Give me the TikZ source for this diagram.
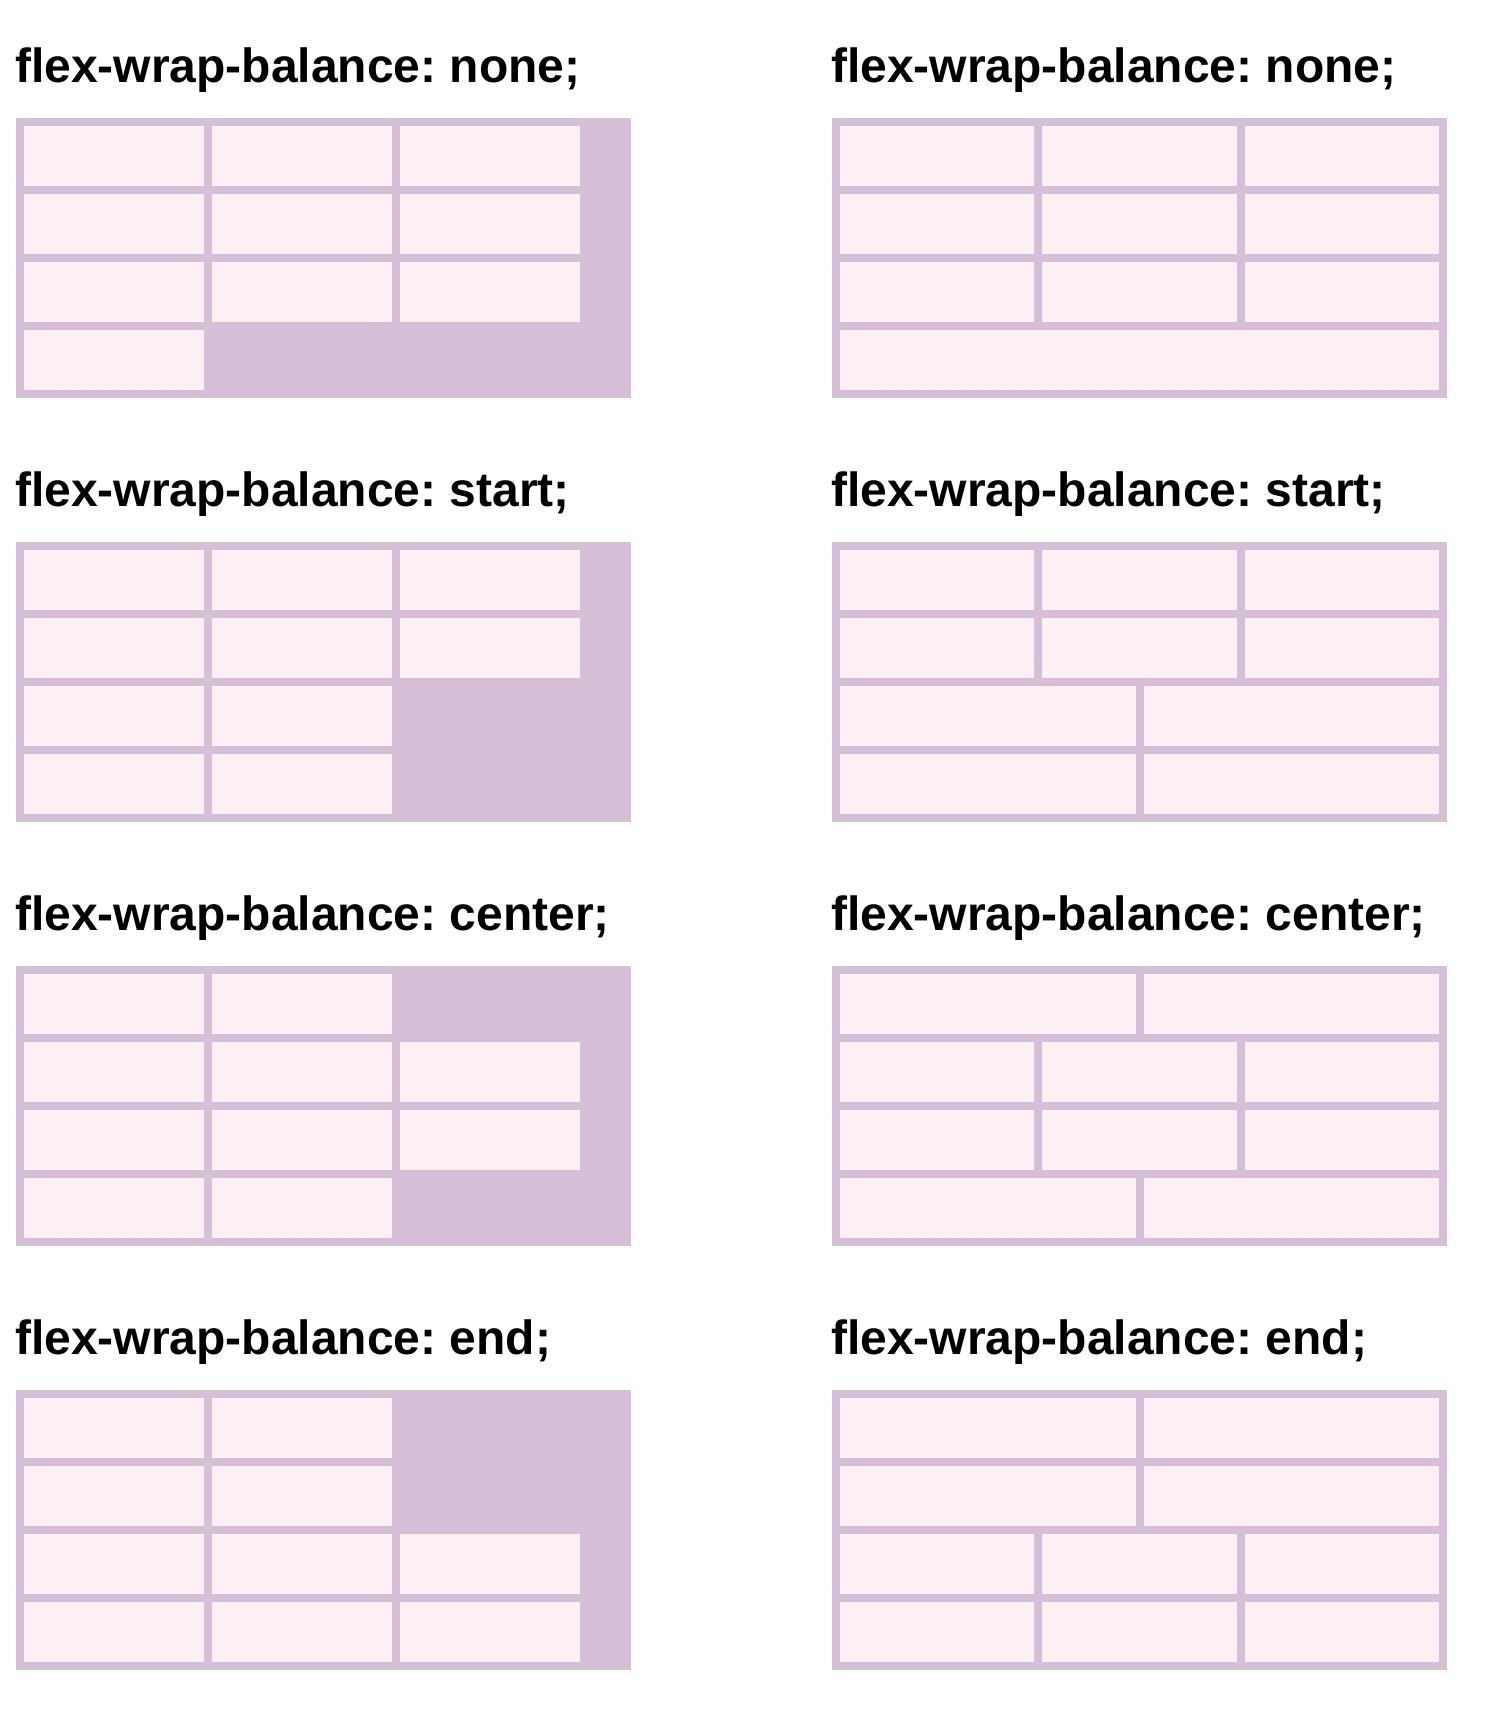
\documentclass[tikz,border=0pt]{standalone}
\usepackage{fontspec}
\setmainfont{Liberation Sans}
\usetikzlibrary{positioning}
\frenchspacing
\definecolor{thistle500}{HTML}{D4BFD6}
\definecolor{blush100}{HTML}{FDF0F5}
\tikzset{
  wrapbox/.style={fill=thistle500},
  cellbox/.style={fill=blush100},
  caption/.style={
    anchor=base west, inner sep=0pt,
    font=\fontsize{48}{54}\selectfont\bfseries
  },
}

\begin{document}
\begin{tikzpicture}[x=1pt, y=-1pt]
  \fill[white] (0,0) rectangle (1484,1716);
  \useasboundingbox (0,0) rectangle (1484,1716);

  \foreach \mode/\rows [count=\k from 0] in {none/{3,3,3,1}, start/{3,3,2,2}, center/{2,3,3,2}, end/{2,2,3,3}} {
    \pgfmathsetmacro\top{118+424*\k}
    \pgfmathsetmacro\base{82+424*\k}
    % captions
    \node[caption] (capL\k) at (15,\base) {flex-wrap-balance: \mode;};
    \node[caption] (capR\k) at (831,\base) {flex-wrap-balance: \mode;};
    % containers
    \fill[wrapbox] (16,\top) rectangle ++(615,280);
    \fill[wrapbox] (832,\top) rectangle ++(615,280);
    % items
    \foreach \n [count=\j from 0] in \rows {
      \pgfmathsetmacro\w{(599-8*(\n-1))/\n}
      \foreach \i in {1,...,\n} {
        \fill[cellbox] ({24+(\i-1)*188}, {\top+8+\j*68}) rectangle ++(180,60);
        \fill[cellbox] ({840+(\i-1)*(\w+8)}, {\top+8+\j*68}) rectangle ++(\w,60);
      }
    }
  }
\end{tikzpicture}
\end{document}
